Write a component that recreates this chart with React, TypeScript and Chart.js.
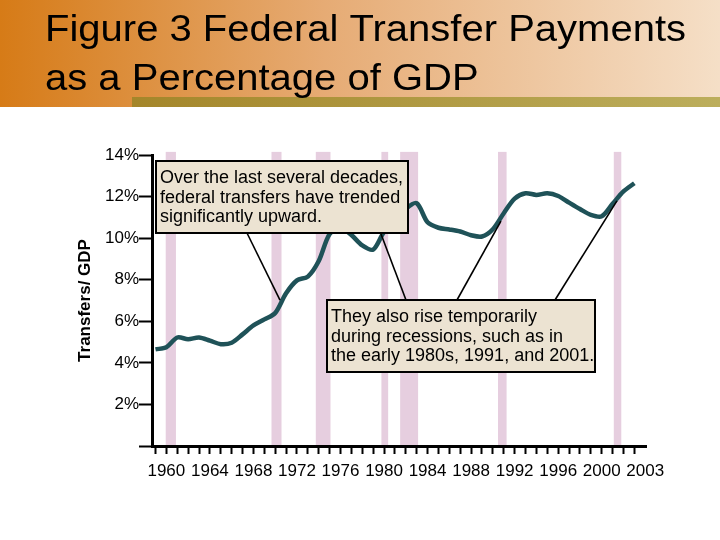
import React, { useEffect, useRef } from 'react';
import { Chart, registerables } from 'chart.js';

Chart.register(...registerables);

// ---------- data ----------
const years = [
  1959, 1960, 1961, 1962, 1963, 1964, 1965, 1966, 1967, 1968, 1969, 1970,
  1971, 1972, 1973, 1974, 1975, 1976, 1977, 1978, 1979, 1980, 1981, 1982,
  1983, 1984, 1985, 1986, 1987, 1988, 1989, 1990, 1991, 1992, 1993, 1994,
  1995, 1996, 1997, 1998, 1999, 2000, 2001, 2002, 2003,
];
const transferShare = [
  4.65, 4.75, 5.22, 5.14, 5.22, 5.07, 4.9, 4.97, 5.37, 5.8, 6.09, 6.4,
  7.35, 7.97, 8.15, 8.9, 10.2, 10.5, 10.15, 9.65, 9.45, 10.3, 10.8, 11.4,
  11.68, 10.76, 10.5, 10.42, 10.32, 10.14, 10.08, 10.43, 11.2, 11.9, 12.16, 12.08,
  12.16, 12.03, 11.71, 11.4, 11.12, 11.05, 11.65, 12.25, 12.64,
];
const recessionStart = [1959.94, 1969.66, 1973.73, 1979.76, 1981.48, 1990.47, 2001.11];
const recessionEnd = [1960.88, 1970.58, 1975.08, 1980.38, 1983.13, 1991.26, 2001.8];

const xTickYears = [...years, 2004];
const xLabelYears = [1960, 1964, 1968, 1972, 1976, 1980, 1984, 1988, 1992, 1996, 2000, 2004];
const xLabelTexts = ['1960', '1964', '1968', '1972', '1976', '1980', '1984', '1988', '1992', '1996', '2000', '2003'];

const titleLines = ['Figure 3 Federal Transfer Payments', 'as a Percentage of GDP'];
const yAxisTitle = 'Transfers/ GDP';
const note1Lines = ['Over the last several decades,', 'federal transfers have trended', 'significantly upward.'];
const note2Lines = ['They also rise temporarily', 'during recessions, such as in', 'the early 1980s, 1991, and 2001.'];
const pointerYears = [1970.44, 1979.72, 1990.74, 2001.4];
const pointerValues = [7.02, 10.2, 10.82, 11.79];

// ---------- layout / style ----------
const FONT = "'Liberation Sans', Arial, Helvetica, sans-serif";
const note1Box = { x: 156, y: 161, w: 252, h: 72 };
const note2Box = { x: 327, y: 300, w: 268, h: 72 };
const pointerBaseX = [247, 406, 457, 555];
const pointerBaseBox = [0, 1, 1, 1];

const decorPlugin = {
  id: 'decor',
  beforeDraw(chart: any) {
    const ctx = chart.ctx;
    const W = chart.width;
    ctx.save();
    // header band
    const g = ctx.createLinearGradient(0, 0, W, 0);
    g.addColorStop(0, '#d67b17');
    g.addColorStop(0.45, '#e6ab74');
    g.addColorStop(1, '#f5dfc7');
    ctx.fillStyle = g;
    ctx.fillRect(0, 0, W, 107);
    const g2 = ctx.createLinearGradient(132, 0, W, 0);
    g2.addColorStop(0, '#a4862a');
    g2.addColorStop(1, '#bcae5c');
    ctx.fillStyle = g2;
    ctx.fillRect(132, 97, W - 132, 10);
    // title (slightly widened glyphs, like the original slide)
    ctx.fillStyle = '#000';
    ctx.font = `37px ${FONT}`;
    ctx.textBaseline = 'alphabetic';
    ctx.textAlign = 'left';
    ctx.save();
    ctx.translate(45, 0);
    ctx.scale(40 / 37, 1);
    ctx.fillText(titleLines[0], 0, 41);
    ctx.fillText(titleLines[1], 0, 90);
    ctx.restore();
    // recession bands
    const xs = chart.scales.x;
    const ys = chart.scales.y;
    ctx.fillStyle = '#e6cedf';
    const yTop = ys.getPixelForValue(14.15);
    const yBot = ys.getPixelForValue(0);
    for (let i = 0; i < recessionStart.length; i++) {
      const x0 = xs.getPixelForValue(recessionStart[i]);
      const x1 = xs.getPixelForValue(recessionEnd[i]);
      ctx.fillRect(x0, yTop, x1 - x0, yBot - yTop);
    }
    ctx.restore();
  },
  afterDraw(chart: any) {
    const ctx = chart.ctx;
    const xs = chart.scales.x;
    const ys = chart.scales.y;
    const boxes = [note1Box, note2Box];
    ctx.save();
    // pointers
    ctx.strokeStyle = '#000';
    ctx.lineWidth = 1.6;
    for (let i = 0; i < pointerYears.length; i++) {
      const b = boxes[pointerBaseBox[i]];
      const by = pointerBaseBox[i] === 0 ? b.y + b.h : b.y;
      ctx.beginPath();
      ctx.moveTo(pointerBaseX[i], by);
      ctx.lineTo(xs.getPixelForValue(pointerYears[i]), ys.getPixelForValue(pointerValues[i]));
      ctx.stroke();
    }
    // boxes
    const notes = [note1Lines, note2Lines];
    boxes.forEach((b, bi) => {
      ctx.fillStyle = '#ece3d2';
      ctx.fillRect(b.x, b.y, b.w, b.h);
      ctx.strokeStyle = '#000';
      ctx.lineWidth = 2;
      ctx.strokeRect(b.x, b.y, b.w, b.h);
      ctx.fillStyle = '#000';
      ctx.font = `18px ${FONT}`;
      ctx.textAlign = 'left';
      ctx.textBaseline = 'alphabetic';
      notes[bi].forEach((t, li) => {
        ctx.fillText(t, b.x + 4, b.y + 22 + li * 19.5);
      });
    });
    ctx.restore();
  },
};

export default function App() {
  const ref = useRef<HTMLCanvasElement | null>(null);
  useEffect(() => {
    if (!ref.current) return;
    const chart = new Chart(ref.current, {
      type: 'line',
      data: {
        datasets: [
          {
            label: 'Transfers/GDP',
            data: years.map((x, i) => ({ x, y: transferShare[i] })),
            borderColor: '#1f5258',
            borderWidth: 4.5,
            pointRadius: 0,
            tension: 0.3,
            fill: false,
          },
        ],
      },
      options: {
        responsive: false,
        animation: false,
        devicePixelRatio: 1,
        layout: { padding: { left: 60, right: 74, top: 155, bottom: 54 } },
        plugins: {
          legend: { display: false },
          title: { display: false },
          tooltip: { enabled: false },
        },
        scales: {
          x: {
            type: 'linear',
            min: 1958.68,
            max: 2004.07,
            afterFit: (s: any) => { s.height = 40; },
            afterBuildTicks: (s: any) => { s.ticks = xTickYears.map((v) => ({ value: v })); },
            border: { display: true, color: '#000', width: 3 },
            grid: {
              drawOnChartArea: false,
              drawTicks: true,
              tickLength: 8,
              tickWidth: 2,
              tickColor: (c: any) => (c.tick && c.tick.value === 2004 ? 'rgba(0,0,0,0)' : '#000'),
            },
            ticks: {
              autoSkip: false,
              maxRotation: 0,
              minRotation: 0,
              padding: 7,
              color: '#000',
              font: { family: FONT, size: 17 },
              callback: (v: any) => {
                const i = xLabelYears.indexOf(Number(v));
                return i >= 0 ? xLabelTexts[i] : '';
              },
            },
          },
          y: {
            type: 'linear',
            min: 0,
            max: 14,
            afterFit: (s: any) => { s.width = 92; },
            border: { display: true, color: '#000', width: 3 },
            grid: {
              drawOnChartArea: false,
              drawTicks: true,
              tickLength: 13,
              tickWidth: 2,
              tickColor: '#000',
            },
            ticks: {
              stepSize: 2,
              padding: 0,
              color: '#000',
              font: { family: FONT, size: 17 },
              callback: (v: any) => (Number(v) === 0 ? '' : `${v}%`),
            },
            title: {
              display: true,
              text: yAxisTitle,
              color: '#000',
              font: { family: FONT, size: 17, weight: 'bold' },
              padding: { top: 15, bottom: 0 },
            },
          },
        },
      },
      plugins: [decorPlugin],
    });
    return () => chart.destroy();
  }, []);
  return (
    <div style={{ position: 'fixed', left: 0, top: 0, width: 720, height: 540, background: '#fff' }}>
      <canvas ref={ref} width={720} height={540} />
    </div>
  );
}
